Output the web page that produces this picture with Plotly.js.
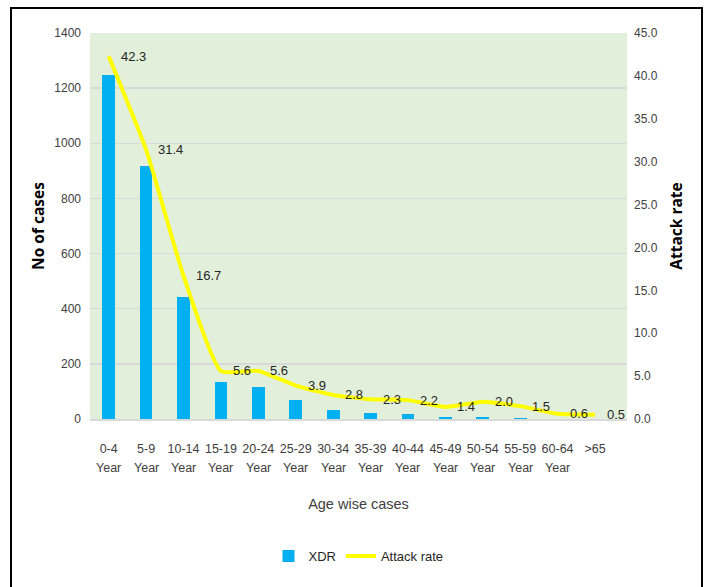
<!DOCTYPE html>
<html>
<head>
<meta charset="utf-8">
<script src="https://cdn.plot.ly/plotly-3.0.1.min.js"></script>
<style>
html,body{margin:0;padding:0;background:#fff;}
#wrap{position:relative;width:704px;height:587px;overflow:hidden;}
#chart{position:absolute;left:0;top:0;width:704px;height:587px;}
#frame{position:absolute;left:10px;top:7px;width:689px;height:600px;border:2px solid #000;pointer-events:none;}
</style>
</head>
<body>
<div id="wrap"><div id="chart"></div><div id="frame"></div></div>
<script>
const categories = ["0-4 Year","5-9 Year","10-14 Year","15-19 Year","20-24 Year","25-29 Year","30-34 Year","35-39 Year","40-44 Year","45-49 Year","50-54 Year","55-59 Year","60-64 Year",">65"];
const tickLabels = ["0-4","5-9","10-14","15-19","20-24","25-29","30-34","35-39","40-44","45-49","50-54","55-59","60-64",">65"];
const tickSecondLine = ["Year","Year","Year","Year","Year","Year","Year","Year","Year","Year","Year","Year","Year",""];
const xdrCases = [1248, 918, 443, 134, 116, 69, 33, 22, 19, 7, 7, 4, 1, 0];
const attackRate = [42.3, 31.4, 16.7, 5.6, 5.6, 3.9, 2.8, 2.3, 2.2, 1.4, 2.0, 1.5, 0.6, 0.5];

const FONT = '"Liberation Sans",Arial,sans-serif';
const BOLD = '"Open Sans",sans-serif';

const traces = [
  {type:'bar', name:'XDR', x:categories, y:xdrCases, width:0.34,
   marker:{color:'#00b0f0'}, yaxis:'y', hoverinfo:'skip'},
  {type:'scatter', mode:'lines', name:'Attack rate', x:categories, y:attackRate,
   yaxis:'y2', line:{color:'#ffff00', width:4, shape:'spline', smoothing:0.5},
   cliponaxis:false}
];

const annotations = attackRate.map((v,i)=>({
  x:categories[i], y:v, xref:'x', yref:'y2', text:v.toFixed(1),
  showarrow:false, xanchor:'left', yanchor:'middle', xshift:10, yshift:0,
  font:{family:FONT, size:13, color:'#262626'}
})).concat(tickSecondLine.map((t,i)=>({
  x:categories[i], y:-0.127, xref:'x', yref:'paper', text:t,
  showarrow:false, xanchor:'center', yanchor:'middle',
  font:{family:FONT, size:12.5, color:'#404040'}
})));

const layout = {
  width:704, height:587,
  margin:{l:90, r:77, t:33, b:168},
  paper_bgcolor:'#ffffff', plot_bgcolor:'#e2efda',
  font:{family:FONT, size:12, color:'#404040'},
  showlegend:true,
  legend:{orientation:'h', x:0.5, xanchor:'center', y:-0.355, yanchor:'middle',
    font:{family:FONT, size:13, color:'#262626'}, itemwidth:30, traceorder:'normal'},
  bargap:0,
  xaxis:{type:'category', tickvals:categories, ticktext:tickLabels, tickangle:0,
    showgrid:false, showline:true, linecolor:'#d9d9d9', linewidth:2, ticks:'',
    ticklabelstandoff:17,
    tickfont:{family:FONT, size:12.5, color:'#404040'},
    title:{text:'Age wise cases', font:{family:FONT, size:14.5, color:'#404040'}, standoff:44}},
  yaxis:{range:[0,1400], dtick:200, showgrid:true, gridcolor:'#d9d9d9', gridwidth:1.5,
    zeroline:false, showline:false, ticks:'', ticklabelstandoff:8,
    tickfont:{family:FONT, size:12, color:'#404040'},
    title:{text:'No of cases', font:{family:BOLD, size:15.5, color:'#000', weight:'bold'}, standoff:5}},
  yaxis2:{range:[0,45], dtick:5, tickformat:'.1f', overlaying:'y', side:'right',
    showgrid:false, zeroline:false, showline:false, ticks:'', ticklabelstandoff:6,
    tickfont:{family:FONT, size:12, color:'#404040'},
    title:{text:'Attack rate', font:{family:BOLD, size:15.5, color:'#000', weight:'bold'}, standoff:14}},
  annotations:annotations
};

Plotly.newPlot('chart', traces, layout, {displayModeBar:false, staticPlot:true});
</script>
</body>
</html>
